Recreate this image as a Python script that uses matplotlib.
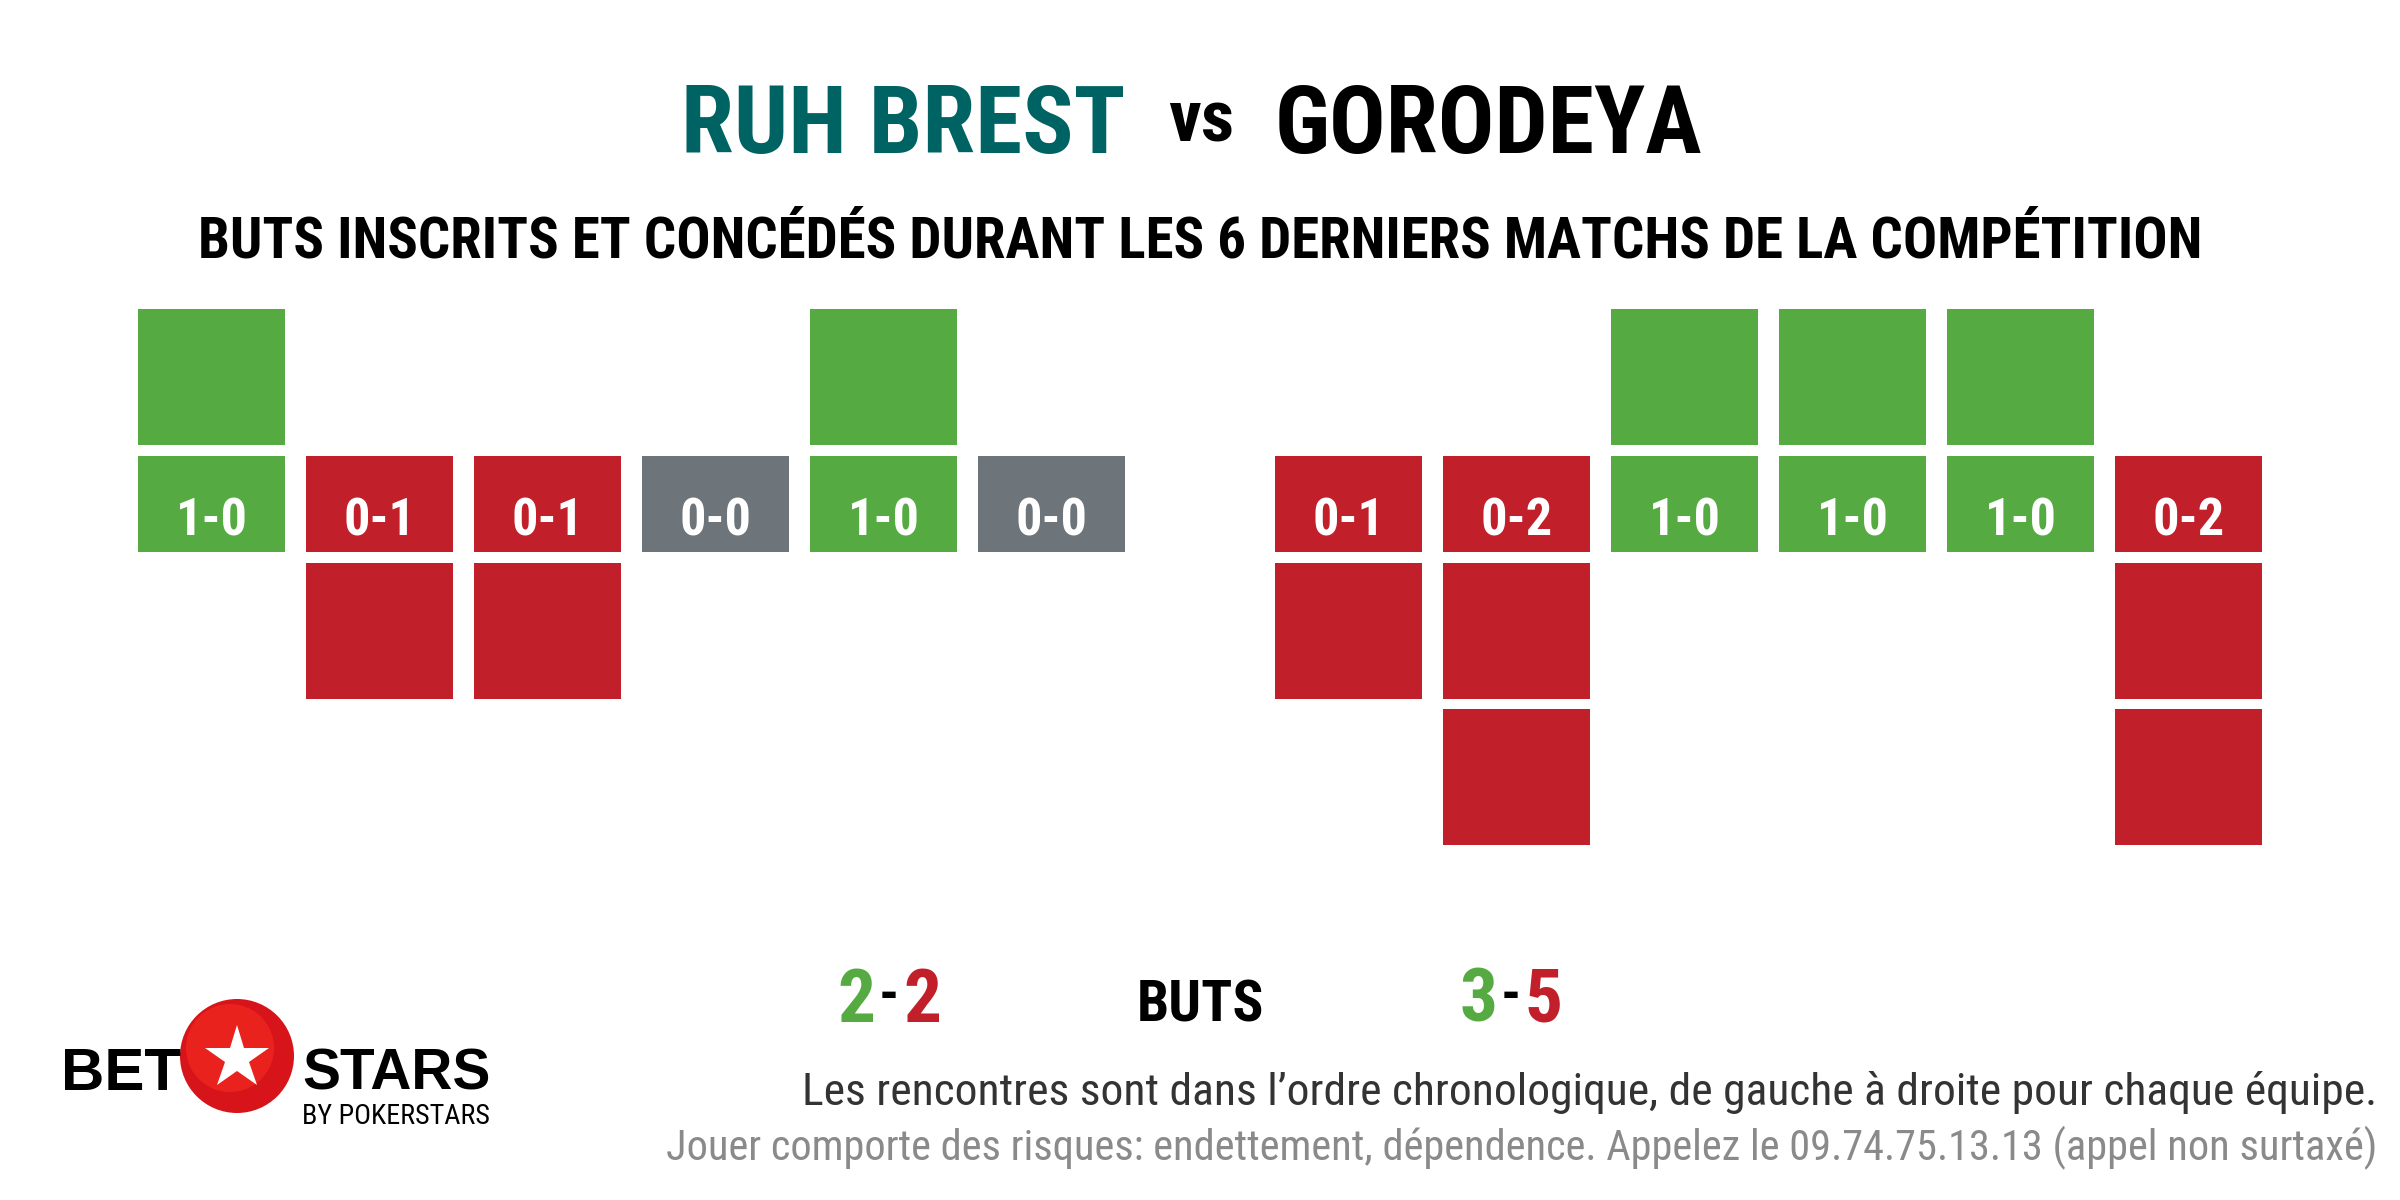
import os
import matplotlib
matplotlib.use('Agg')
import matplotlib.pyplot as plt
from matplotlib import font_manager as fm
from matplotlib.patches import Rectangle, Circle

# --- data -------------------------------------------------------------
home_team = "RUH BREST"
away_team = "GORODEYA"
subtitle = "BUTS INSCRITS ET CONCÉDÉS DURANT LES 6 DERNIERS MATCHS DE LA COMPÉTITION"

home_scored = [1, 0, 0, 0, 1, 0]
home_conceded = [0, 1, 1, 0, 0, 0]
away_scored = [0, 0, 1, 1, 1, 0]
away_conceded = [1, 2, 0, 0, 0, 2]

note_order = "Les rencontres sont dans l\u2019ordre chronologique, de gauche à droite pour chaque équipe."
note_risk = "Jouer comporte des risques: endettement, dépendence. Appelez le 09.74.75.13.13 (appel non surtaxé)"

GREEN = '#55AB42'
RED = '#C1202A'
GREY = '#6D747A'
TEAL = '#006363'


def find_font(options):
    for kws in options:
        for f in fm.fontManager.ttflist:
            base = os.path.basename(f.fname).lower()
            if all(k in base for k in kws) and 'italic' not in base and 'oblique' not in base:
                return f.fname
    return None


cond_path = find_font([('robotocondensed', 'black'), ('robotocondensed', 'bold'),
                       ('liberationsansnarrow', 'bold'), ('dejavusanscondensed', 'bold')])
COND = fm.FontProperties(fname=cond_path) if cond_path else fm.FontProperties(family='DejaVu Sans', weight='bold')
body_path = find_font([('robotocondensed-regular',), ('robotocondensed-light',), ('roboto-regular',)])
BODY = fm.FontProperties(fname=body_path) if body_path else fm.FontProperties(family='Roboto')
logo_path = find_font([('liberationsans-bold',), ('roboto-bold',)])
LOGO = fm.FontProperties(fname=logo_path) if logo_path else fm.FontProperties(family='DejaVu Sans', weight='bold')

fig = plt.figure(figsize=(12, 6), dpi=200)
ax = fig.add_axes((0, 0, 1, 1))
ax.set_xlim(0, 2400)
ax.set_ylim(1200, 0)
ax.set_axis_off()

texts_to_fit = []


def put(x, y, s, fp, width=None, color='black', ha='center', va='baseline', maxsize=None, size=20):
    t = ax.text(x, y, s, fontproperties=fp.copy(), color=color, ha=ha, va=va, fontsize=size)
    if width is not None:
        texts_to_fit.append((t, width, maxsize))
    return t


# --- tiles ------------------------------------------------------------
tile_w, pitch = 147, 168
band_top, band_h = 456, 96
goal_h, gap = 136, 11


def draw_team(x0, scored, conceded):
    for i, (s, c) in enumerate(zip(scored, conceded)):
        x = x0 + i * pitch
        col = GREEN if s > c else (RED if c > s else GREY)
        ax.add_patch(Rectangle((x, band_top), tile_w, band_h, color=col, lw=0))
        put(x + tile_w / 2, band_top + 80, f"{s}-{c}", COND, 72, color='white', maxsize=20)
        for k in range(s):
            y = band_top - gap - goal_h - k * (goal_h + 10)
            ax.add_patch(Rectangle((x, y), tile_w, goal_h, color=GREEN, lw=0))
        for k in range(c):
            y = band_top + band_h + gap + k * (goal_h + 10)
            ax.add_patch(Rectangle((x, y), tile_w, goal_h, color=RED, lw=0))


home_x0, away_x0 = 138, 1275
draw_team(home_x0, home_scored, home_conceded)
draw_team(away_x0, away_scored, away_conceded)

# --- titles -----------------------------------------------------------
home_right = home_x0 + 5 * pitch + tile_w
put(home_right, 153, home_team, COND, 444, color=TEAL, ha='right', maxsize=36)
put(1201, 141, "vs", COND, 66, maxsize=30)
put(away_x0, 153, away_team, COND, 427, ha='left', maxsize=36)
put(1200, 257, subtitle, COND, 2002, maxsize=26)

# --- totals -----------------------------------------------------------
for cx, sc, cc in [(889, sum(home_scored), sum(home_conceded)),
                   (1511, sum(away_scored), sum(away_conceded))]:
    put(cx - 33, 1022, str(sc), COND, color=GREEN, size=27)
    put(cx, 1012, "-", COND, color='black', size=20)
    put(cx + 33, 1022, str(cc), COND, color=RED, size=27)
put(1200, 1022, "BUTS", COND, 127, maxsize=28)

# --- notes ------------------------------------------------------------
put(2377, 1105, note_order, BODY, 1570, color='#333333', ha='right')
put(2377, 1160, note_risk, BODY, 1707, color='#8A8A8A', ha='right')

# --- logo -------------------------------------------------------------
put(61, 1090, "BET", LOGO, 120, ha='left')
put(302, 1090, "STARS", LOGO, 188, ha='left')
put(302, 1124, "BY POKERSTARS", BODY, 188, ha='left')
ax.add_patch(Circle((237, 1056), 57, color='#D7141A', lw=0))
ax.add_patch(Circle((230, 1048), 44, color='#F0261F', lw=0, alpha=0.8))
ax.plot([237], [1058], marker='*', color='white', markersize=24, markeredgewidth=0)

# fit text widths to the layout
fig.canvas.draw()
r = fig.canvas.get_renderer()
for t, w, mx in texts_to_fit:
    bb = t.get_window_extent(r)
    size = t.get_fontsize() * w / bb.width
    if mx is not None:
        size = min(size, mx)
    t.set_fontsize(size)

fig.savefig('out.png', dpi=200)
